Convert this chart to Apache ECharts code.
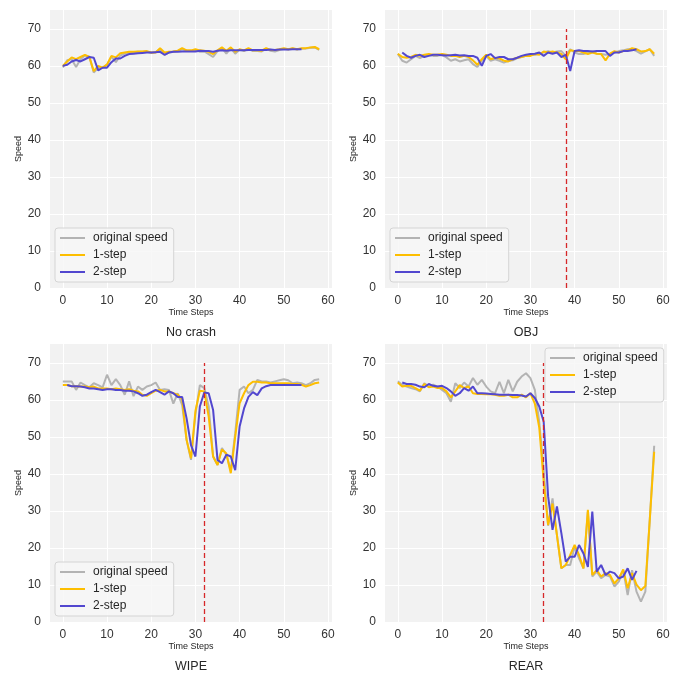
<!DOCTYPE html>
<html>
<head>
<meta charset="utf-8">
<script src="https://cdn.jsdelivr.net/npm/echarts@6/dist/echarts.min.js"></script>
<style>
  html, body { margin: 0; padding: 0; background: #fff; }
  #main { width: 677px; height: 673px; }
</style>
</head>
<body>
<div id="main"></div>
<script>
// panel titles and crash step (red dashed marker)
var panelTitles = ['No crash', 'OBJ', 'WIPE', 'REAR'];
var crashSteps = [null, 38, 32, 33];
var seriesNames = ['original speed', '1-step', '2-step'];
var xTicks = [0, 10, 20, 30, 40, 50, 60];
var yTicks = [0, 10, 20, 30, 40, 50, 60, 70];

// No crash
var noCrashOrig = [59.6, 61.5, 61.8, 59.7, 61.8, 62.8, 62.5, 58.2, 59.5, 59.6, 60.2, 62.5, 61, 62.8, 63.3, 63.5, 63.7, 63.8, 63.8, 63.9,
  63.5, 63.7, 64.5, 63, 63.6, 63.8, 64, 64.5, 64.1, 64, 64.3, 63.8, 63.9, 63.2, 62.4, 64, 64.8, 63.3, 64.8, 63.3,
  64.4, 64, 64.6, 64, 64, 63.9, 64.6, 64.1, 63.9, 64.3, 64.6, 64.4, 64.7, 64.4, 64.6, 64.7, 64.9, 65, 64.3];
var noCrash1 = [60, 61.2, 62.3, 61.8, 62.4, 63, 62.4, 58.6, 60, 59.5, 60.4, 62.7, 62.3, 63.4, 63.6, 63.8, 63.8, 63.9, 63.9, 64,
  63.6, 63.6, 64.8, 63.6, 63.8, 63.9, 64.1, 64.8, 64.2, 64.2, 64.5, 64.2, 64.1, 63.8, 63.2, 64.2, 65, 64.1, 65, 63.8,
  64.5, 64.2, 64.8, 64.2, 64.2, 64.1, 64.8, 64.3, 64.3, 64.5, 64.8, 64.5, 64.8, 64.5, 64.8, 64.8, 65, 65.1, 64.5];
var noCrash2 = [60, 60.3, 61.2, 61.6, 61.2, 61.8, 62.4, 62.2, 58.8, 59.5, 59.5, 61, 62, 62, 62.7, 63.2, 63.3, 63.4, 63.5, 63.6,
  63.6, 63.7, 63.8, 63, 63.6, 63.8, 63.8, 63.9, 63.9, 63.9, 63.9, 64.1, 64, 64, 63.8, 64.1, 64.2, 64.1, 64.2, 64.2,
  64.2, 64.2, 64.3, 64.3, 64.3, 64.3, 64.3, 64.4, 64.3, 64.4, 64.4, 64.4, 64.5, 64.5, 64.5];

// OBJ
var objOrig = [63.2, 61.4, 60.9, 61.8, 62.7, 62.1, 62.7, 63, 62.7, 62.7, 63, 62.3, 61.4, 61.8, 61.2, 61.5, 61.8, 60.5, 59.7, 61.4,
  62.7, 61.4, 61.8, 61.4, 60.9, 61.4, 61.5, 62.1, 62.4, 62.7, 63, 63, 63.3, 63.6, 64, 63.6, 63.9, 64, 62.7, 64.5,
  63.6, 63.2, 63.2, 63.6, 63.9, 63.3, 63.2, 63, 63.2, 63.6, 64, 64.2, 64.5, 64.5, 64, 63.3, 63.9, 64.5, 62.7];
var obj1 = [63.3, 62.4, 62.2, 62.4, 63, 62.7, 63, 63.2, 63, 63, 63.2, 63, 62.7, 62.7, 62.4, 62.7, 62.4, 61.5, 60.3, 61.8,
  63, 61.8, 62.2, 62, 61.4, 61.2, 61.8, 62.2, 62.4, 62.7, 62.7, 63.2, 63, 63.9, 63.6, 63.9, 63.6, 63.2, 61.8, 64.2,
  64, 64, 63.6, 63.2, 63.6, 63.3, 63.2, 61.5, 63.3, 64, 63.6, 64, 64.2, 64.8, 64.5, 63.9, 64, 64.5, 63.3];
var obj2 = [null, 63.6, 62.7, 62.2, 62.7, 63, 62.4, 62.7, 63, 63, 62.9, 62.8, 62.9, 63, 62.8, 62.9, 62.7, 62.7, 62.2, 60,
  62.7, 63.2, 62.1, 62.4, 62.4, 61.8, 61.8, 62.2, 62.7, 63, 63.2, 63.3, 63.6, 62.7, 63.6, 63.3, 63.6, 62.4, 63, 58.6,
  64, 64.2, 64, 64, 63.9, 64, 64, 64, 62.7, 63.6, 63.6, 64, 64, 64.2, 64.5];

// WIPE
var wipeOrig = [65, 65, 65, 62.7, 64.7, 64, 63.4, 64.5, 64, 63.4, 66.8, 64, 65.6, 64, 61.4, 65, 61, 63.6, 62.7, 63.6,
  64, 64.7, 62.7, 62.9, 62.7, 59, 61.8, 58.6, 49.2, 43.8, 56, 64, 63.2, 58.2, 44.7, 42.4, 47, 45.2, 41, 51,
  62.7, 63.6, 61.8, 62.7, 65.4, 65, 65, 64.7, 65, 65.3, 65.6, 65.3, 64.5, 64.7, 64.5, 64, 64.5, 65.4, 65.6];
var wipe1 = [64, 64, 63.7, 63.7, 63.6, 63.6, 63.4, 63.6, 63.1, 63.1, 63.1, 62.9, 63.1, 62.9, 62.7, 62.9, 62.5, 62.3, 61.4, 61.1,
  61.8, 62.5, 62.7, 62.3, 62.3, 61.8, 61.4, 60.2, 49.2, 44.2, 57, 62.5, 62.3, 55.5, 44.7, 42.4, 46.6, 45.5, 40.2, 50,
  59.1, 61.8, 64, 64.9, 64.9, 64.7, 64.7, 64.5, 64.5, 64.5, 64.5, 64.5, 64.3, 64.3, 64.1, 63.6, 64, 64.5, 64.7];
var wipe2 = [null, 64, 63.7, 63.7, 63.6, 63.4, 63.1, 63.1, 62.9, 62.7, 62.9, 62.9, 62.7, 62.7, 62.5, 62.5, 62.3, 61.8, 61.1, 61.4,
  62.1, 62.7, 62.1, 61.4, 62.3, 61.8, 60.8, 60.8, 55, 47.8, 44.7, 58.2, 62, 61.8, 57.3, 43.8, 42.9, 45.2, 44.7, 41,
  52.8, 57.7, 60.8, 62.1, 61.3, 63.1, 63.7, 64, 64, 64, 64, 64, 64, 64, 64];

// REAR
var rearOrig = [65, 64.1, 63.6, 63.2, 62.9, 62.3, 64.5, 63.6, 64.1, 63.6, 62.7, 61.8, 59.5, 64.5, 63.2, 64.7, 63.6, 65.9, 64.1, 65.4,
  63.6, 62.3, 61.8, 64.9, 61.8, 65.4, 62.3, 64.9, 66.3, 67.2, 65.9, 62.7, 54, 41, 26, 33.4, 23.5, 14.5, 15.4, 15.4,
  20.3, 17.2, 14.5, 29.8, 12.3, 13.6, 11.8, 12.7, 12.3, 9.6, 10.9, 14, 7.3, 14, 8.2, 5.5, 8.2, 27.6, 47.6];
var rear1 = [64.7, 63.6, 63.8, 63.8, 63.2, 62.5, 64.3, 63.4, 63.6, 63.2, 63.2, 62.3, 60.7, 62.3, 64, 63.2, 63.6, 61.8, 61.6, 61.6,
  61.5, 61.5, 61.4, 61.1, 61.1, 61.4, 60.7, 60.7, 61.4, 60.7, 61.8, 59, 52.5, 38, 26.2, 32, 23.5, 14.5, 15.4, 18.1,
  20.8, 18.1, 14.5, 30.3, 12.7, 14, 12.3, 13.2, 12.7, 10.4, 11.8, 14.2, 9.1, 13.2, 10.1, 8.6, 9.7, 27.6, 46];
var rear2 = [null, 64.7, 64.3, 64.3, 64.1, 63.6, 63.4, 64.3, 63.8, 63.6, 63.8, 63.2, 62.3, 61.1, 61.8, 63.2, 62.5, 63.6, 61.8, 61.8,
  61.7, 61.6, 61.5, 61.4, 61.4, 61.4, 61.3, 61.3, 61.2, 60.9, 61.8, 60.5, 58.2, 54.1, 34, 24.9, 31.2, 24, 16.3, 17.6,
  17.6, 20.8, 18.5, 14.9, 29.8, 13.6, 15.4, 12.7, 13.6, 13.2, 11.8, 12.3, 14.5, 11.4, 13.8];

var panelData = [
  [noCrashOrig, noCrash1, noCrash2],
  [objOrig, obj1, obj2],
  [wipeOrig, wipe1, wipe2],
  [rearOrig, rear1, rear2]
];

var colors = ['#b3b3b3', '#fdbe00', '#5247cf'];
var fontFamily = '"Liberation Sans", Arial, sans-serif';

// grid boxes: [left, top]
var gridPos = [[50, 10], [385, 10], [50, 344], [385, 344]];
var legendPos = [[55, 228], [390, 228], [55, 562], [545, 348]];

function toPairs(arr) {
  var out = [];
  arr.forEach(function (v, i) {
    if (v !== null) out.push([i, v]);
  });
  return out;
}

var myechart = echarts.init(document.getElementById('main'));

var grids = [], xAxes = [], yAxes = [], series = [], legends = [], graphics = [];

gridPos.forEach(function (p, k) {
  grids.push({
    left: p[0], top: p[1], width: 282, height: 278,
    show: true, backgroundColor: '#f2f2f2', borderWidth: 0
  });
  xAxes.push({
    type: 'value', gridIndex: k, min: -2.9, max: 60.9,
    name: 'Time Steps', nameLocation: 'middle', nameGap: 19,
    nameTextStyle: { fontSize: 9, color: '#262626', fontFamily: fontFamily },
    axisLine: { show: false, onZero: false },
    axisTick: { show: false, customValues: xTicks },
    axisLabel: { customValues: xTicks, margin: 7, fontSize: 12, color: '#333', fontFamily: fontFamily },
    splitLine: { show: true, lineStyle: { color: '#ffffff', width: 1 } }
  });
  yAxes.push({
    type: 'value', gridIndex: k, min: 0, max: 75.1,
    name: 'Speed', nameLocation: 'middle', nameGap: 27,
    nameTextStyle: { fontSize: 9, color: '#262626', fontFamily: fontFamily },
    axisLine: { show: false, onZero: false },
    axisTick: { show: false, customValues: yTicks },
    axisLabel: { customValues: yTicks, margin: 9, fontSize: 12, color: '#333', fontFamily: fontFamily },
    splitLine: { show: true, lineStyle: { color: '#ffffff', width: 1 } }
  });

  panelData[k].forEach(function (arr, s) {
    var item = {
      name: seriesNames[s],
      type: 'line',
      xAxisIndex: k, yAxisIndex: k,
      data: toPairs(arr),
      showSymbol: false,
      symbol: 'none',
      color: colors[s],
      lineStyle: { width: 2, color: colors[s] },
      z: 2 + s
    };
    if (s === 2 && crashSteps[k] !== null) {
      item.markLine = {
        silent: true,
        symbol: ['none', 'none'],
        label: { show: false },
        lineStyle: { type: [5, 3], color: '#d62728', width: 1.3 },
        data: [[{ coord: [crashSteps[k], 0] }, { coord: [crashSteps[k], 70] }]]
      };
    }
    series.push(item);
  });

  legends.push({
    data: seriesNames,
    orient: 'vertical',
    left: legendPos[k][0], top: legendPos[k][1],
    icon: 'rect', itemWidth: 25, itemHeight: 2, itemGap: 5,
    padding: [4, 6, 4, 5],
    backgroundColor: 'rgba(247,247,247,0.85)',
    borderColor: '#d4d4d4', borderWidth: 1, borderRadius: 3,
    textStyle: { fontSize: 12, color: '#262626', fontFamily: fontFamily, padding: [0, 0, 0, 3] },
    selectedMode: false
  });

  graphics.push({
    type: 'text',
    x: p[0] + 141, y: p[1] + 323,
    style: {
      text: panelTitles[k], align: 'center', verticalAlign: 'middle',
      fontSize: 12.5, fill: '#262626', fontFamily: fontFamily
    }
  });
});

myechart.setOption({
  animation: false,
  grid: grids,
  xAxis: xAxes,
  yAxis: yAxes,
  legend: legends,
  series: series,
  graphic: graphics
});
window.onresize = function () {
  myechart.resize();
};
</script>
</body>
</html>
